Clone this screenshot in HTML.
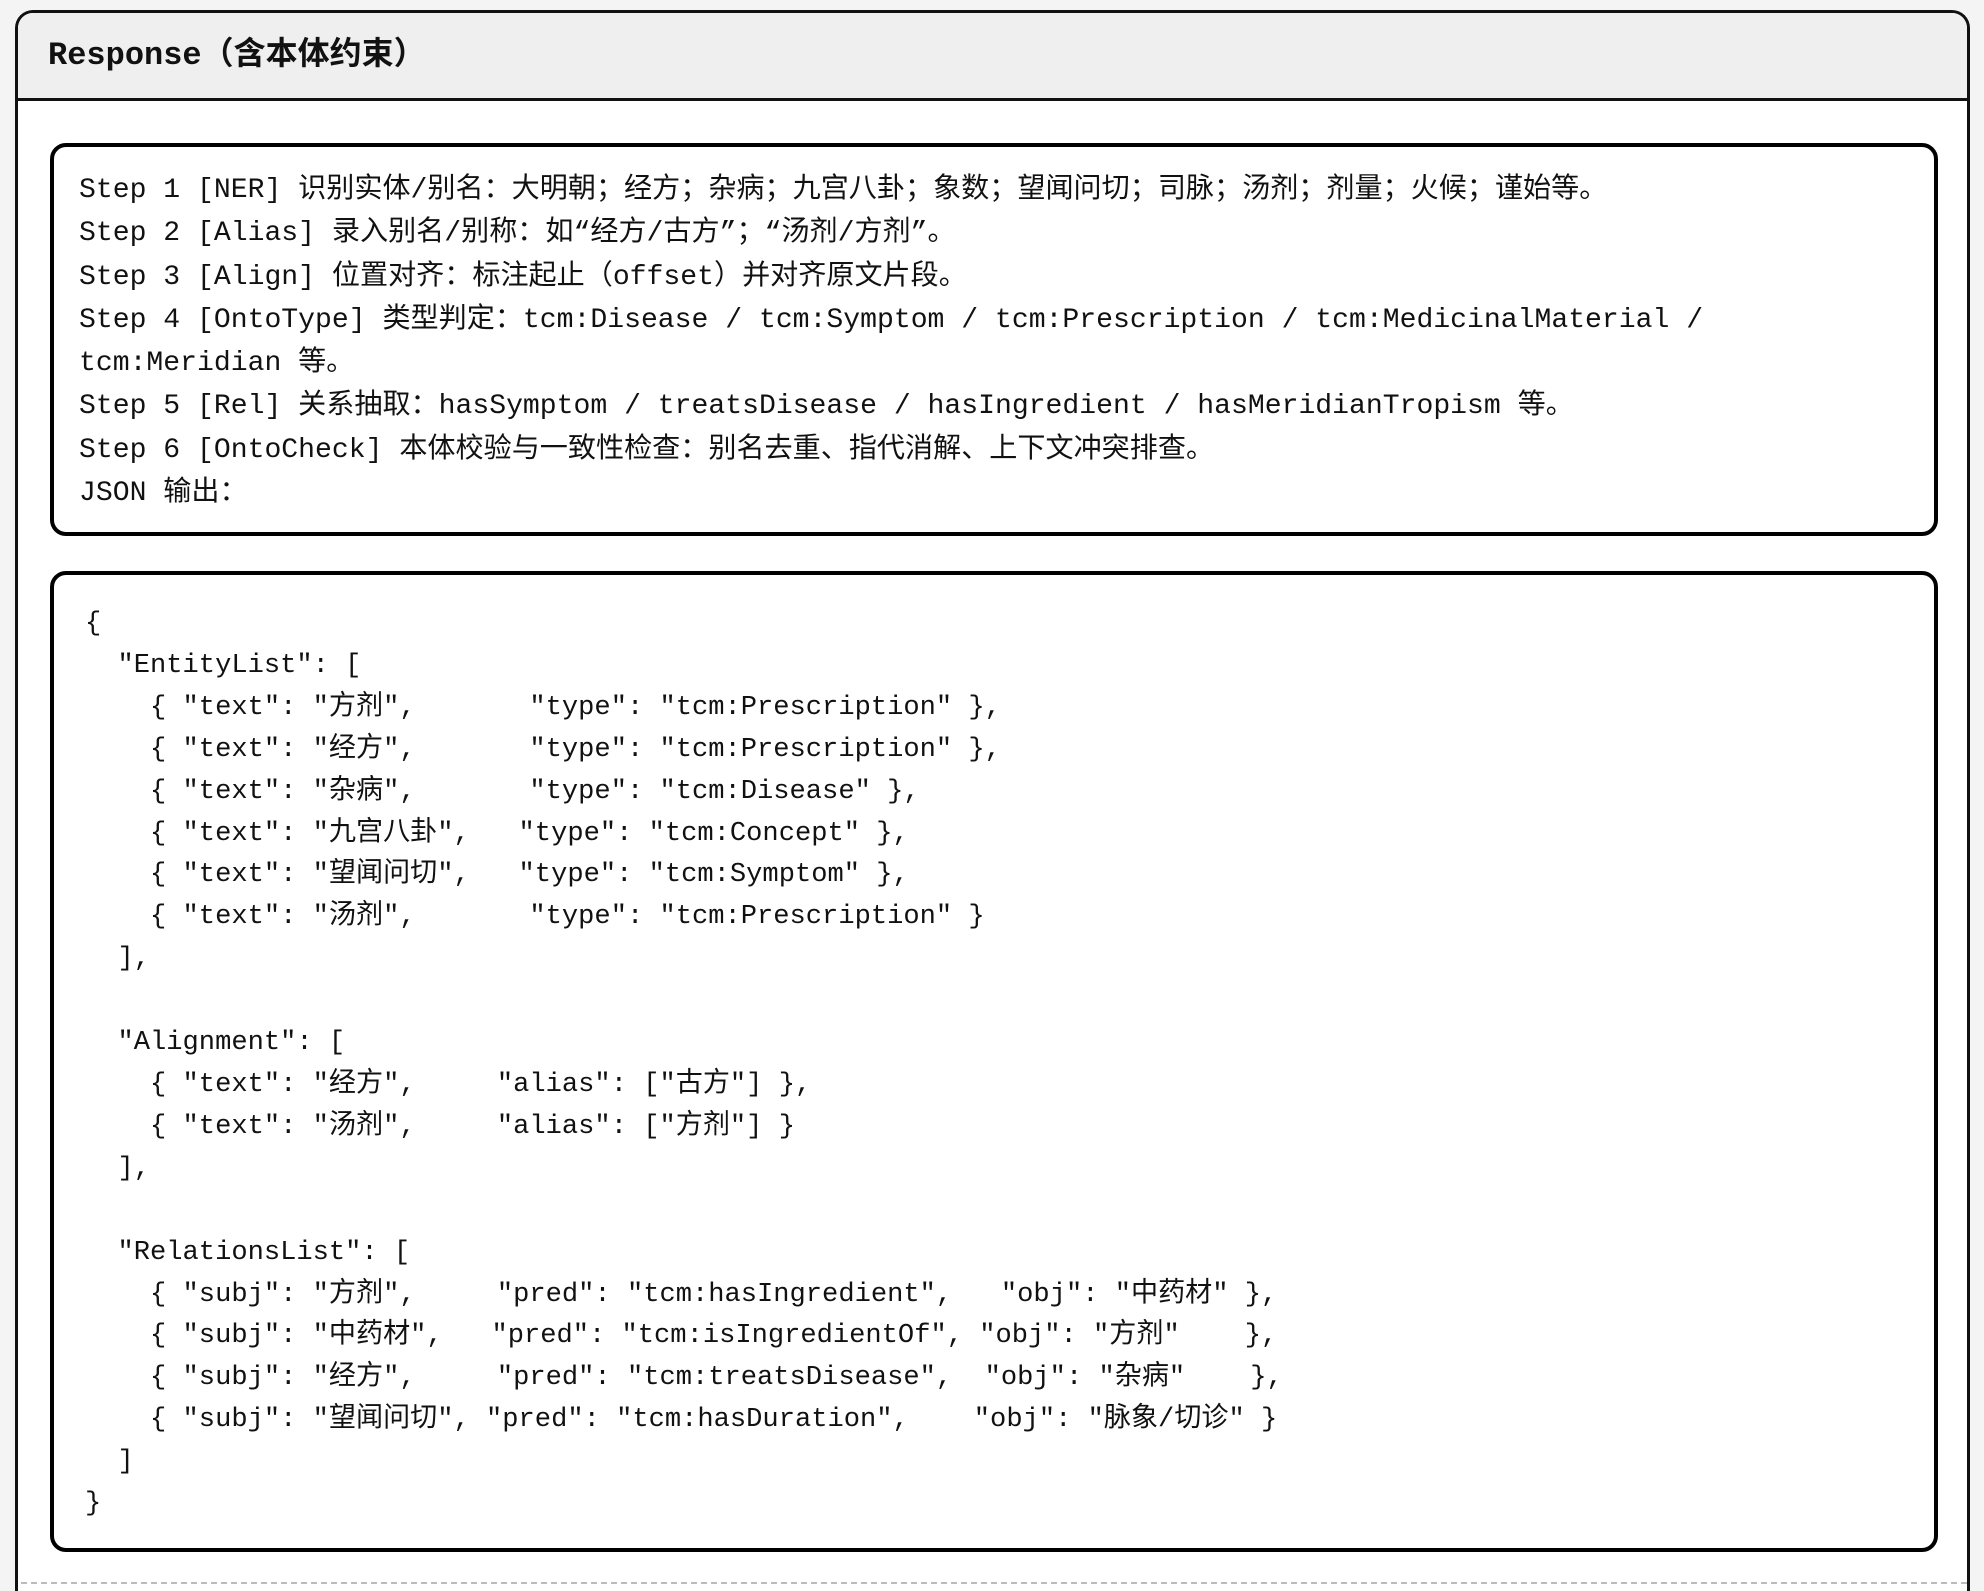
<!DOCTYPE html>
<html><head><meta charset="utf-8"><style>
html,body{margin:0;padding:0;width:1984px;height:1588px;overflow:hidden;background:#f4f4f5;}
.outer{position:absolute;left:15px;top:10px;width:1949px;height:1578px;border:3px solid #111;border-bottom:none;border-radius:18px 18px 0 0;background:#fff;overflow:hidden;}
.hdr{position:absolute;left:0;top:0;right:0;height:85px;background:#efefef;border-bottom:3px solid #111;}
.title{position:absolute;left:30px;top:15px;font:bold 32px "Liberation Mono","Noto Sans CJK SC",monospace;color:#111;}
.box{position:absolute;left:32px;width:1880px;border:4px solid #000;border-radius:16px;background:#fff;}
pre{margin:0;position:absolute;font-family:"Liberation Mono","Noto Sans CJK SC",monospace;color:#111;white-space:pre;}
.dash{position:absolute;left:3px;right:0;top:1569px;border-top:2px dashed #bbb;}
</style></head><body>
<div class="outer">
<div class="hdr"><div class="title">Response（含本体约束）</div></div>
<div class="box" style="top:130px;height:385px;">
<pre style="left:25px;top:22px;line-height:43.3px;font-size:28.1px;">Step 1 [NER] 识别实体/别名：大明朝；经方；杂病；九宫八卦；象数；望闻问切；司脉；汤剂；剂量；火候；谨始等。
Step 2 [Alias] 录入别名/别称：如“经方/古方”；“汤剂/方剂”。
Step 3 [Align] 位置对齐：标注起止（offset）并对齐原文片段。
Step 4 [OntoType] 类型判定：tcm:Disease / tcm:Symptom / tcm:Prescription / tcm:MedicinalMaterial /
tcm:Meridian 等。
Step 5 [Rel] 关系抽取：hasSymptom / treatsDisease / hasIngredient / hasMeridianTropism 等。
Step 6 [OntoCheck] 本体校验与一致性检查：别名去重、指代消解、上下文冲突排查。
JSON 输出：</pre>
</div>
<div class="box" style="top:558px;height:973px;">
<pre style="left:31px;top:28px;line-height:41.9px;font-size:27.1px;">{
  "EntityList": [
    { "text": "方剂",       "type": "tcm:Prescription" },
    { "text": "经方",       "type": "tcm:Prescription" },
    { "text": "杂病",       "type": "tcm:Disease" },
    { "text": "九宫八卦",   "type": "tcm:Concept" },
    { "text": "望闻问切",   "type": "tcm:Symptom" },
    { "text": "汤剂",       "type": "tcm:Prescription" }
  ],

  "Alignment": [
    { "text": "经方",     "alias": ["古方"] },
    { "text": "汤剂",     "alias": ["方剂"] }
  ],

  "RelationsList": [
    { "subj": "方剂",     "pred": "tcm:hasIngredient",   "obj": "中药材" },
    { "subj": "中药材",   "pred": "tcm:isIngredientOf", "obj": "方剂"    },
    { "subj": "经方",     "pred": "tcm:treatsDisease",  "obj": "杂病"    },
    { "subj": "望闻问切", "pred": "tcm:hasDuration",    "obj": "脉象/切诊" }
  ]
}</pre>
</div>
<div class="dash"></div>
</div>
</body></html>
